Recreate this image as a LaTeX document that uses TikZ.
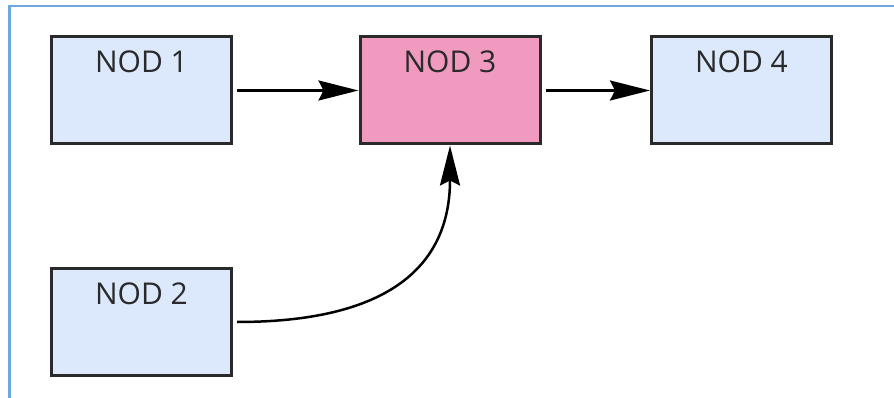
\documentclass[tikz,border=0pt]{standalone}
\usepackage{fontspec}
\setmainfont{Open Sans}
\usetikzlibrary{arrows.meta,calc}
\definecolor{framecol}{HTML}{6FA8DC}
\definecolor{boxblue}{HTML}{DCE8FC}
\definecolor{boxpink}{HTML}{F09AC0}
\definecolor{edgegray}{HTML}{2A2A2A}
\tikzset{
  box/.style={draw=edgegray, line width=3pt, fill=boxblue, text=edgegray,
    minimum width=180pt, inner xsep=0pt, inner ysep=0pt,
    text height=36pt, text depth=71pt,
    font=\fontsize{30}{35}\selectfont},
  hot/.style={box, fill=boxpink},
  arr/.style={draw=black, line width=2.5pt,
    -{Stealth[length=40pt, width=20pt, inset=5pt]}},
  frameline/.style={draw=framecol, line width=2.5pt}
}
\begin{document}
\begin{tikzpicture}[x=1pt, y=-1pt]
  \useasboundingbox (0,0) rectangle (894,398);
  % outer frame
  \draw[frameline] (9.5,398) -- (9.5,6) -- (894,6);
  % nodes
  \node[box] (n1) at (141.5,90.5) {NOD 1};
  \node[hot] (n3) at (450,90.5) {NOD 3};
  \node[box] (n4) at (741.5,90.5) {NOD 4};
  \node[box] (n2) at (141.5,322) {NOD 2};
  % connectors
  \draw[arr, shorten <=4pt] (n1) -- (n3);
  \draw[arr, shorten <=4pt] (n3) -- (n4);
  \draw[arr, shorten <=4pt] (n2.east)
    .. controls ($(n2.east)+(177,0)$) and ($(n3.south)+(0,104)$) .. (n3.south);
\end{tikzpicture}
\end{document}
